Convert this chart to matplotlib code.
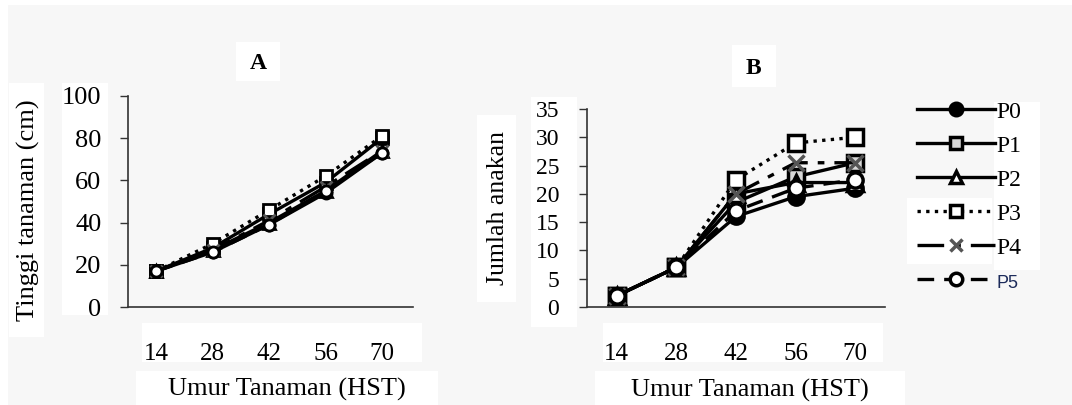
import numpy as np
import matplotlib
matplotlib.use('Agg')
import matplotlib.pyplot as plt
from matplotlib.patches import Rectangle

# Data
days = ['14', '28', '42', '56', '70']
series = ['P0', 'P1', 'P2', 'P3', 'P4', 'P5']

# A: plant height (cm)
height_p0 = [17, 26, 39, 54, 73]
height_p1 = [17, 28, 44, 59, 80]
height_p2 = [17, 27, 40, 55, 74]
height_p3 = [17, 30, 46, 62, 81]
height_p4 = [17, 27, 41, 57, 74]
height_p5 = [17, 26, 39, 55, 73]

# B: number of tillers
tiller_p0 = [2, 7, 16, 19.5, 21]
tiller_p1 = [2, 7, 18.5, 23, 25.5]
tiller_p2 = [2, 7, 20, 22, 22]
tiller_p3 = [2, 7, 22.5, 29, 30]
tiller_p4 = [2, 7, 20, 25.5, 25.5]
tiller_p5 = [2, 7, 17, 21, 22.5]

heights = [height_p0, height_p1, height_p2, height_p3, height_p4, height_p5]
tillers = [tiller_p0, tiller_p1, tiller_p2, tiller_p3, tiller_p4, tiller_p5]

# line / marker styles per series
styles = [
    dict(ls='-', marker='o', mfc='black', mec='black', color='black'),
    dict(ls='-', marker='s', mfc='#d8d8d8', mec='black', color='black'),
    dict(ls='-', marker='^', mfc='white', mec='black', color='black'),
    dict(ls=(0, (1, 1.6)), marker='s', mfc='white', mec='black', color='black'),
    dict(ls=(0, (8, 3, 2, 3)), marker='x', mfc='#555555', mec='#555555', color='black'),
    dict(ls=(0, (5, 3)), marker='o', mfc='white', mec='black', color='black'),
]

W, H = 1072, 405
plt.rcParams['font.family'] = ['Liberation Serif', 'DejaVu Serif']
fig = plt.figure(figsize=(W / 100, H / 100), dpi=100, facecolor='white')


def px_box(x0, y0, x1, y1, color):
    # rectangle given in pixel coords, origin at top-left
    fig.patches.append(Rectangle((x0 / W, 1 - y1 / H), (x1 - x0) / W, (y1 - y0) / H,
                                 transform=fig.transFigure, facecolor=color,
                                 edgecolor='none', zorder=-2))


def px_axes(left, top, right, bottom):
    return fig.add_axes([left / W, 1 - bottom / H, (right - left) / W, (bottom - top) / H])


# grey page with white boxes behind the text pieces
px_box(8, 5, W, H, '#f7f7f7')
for b in [(236, 42, 280, 81), (62, 83, 108, 315), (9, 83, 44, 337), (142, 323, 422, 362),
          (136, 371, 438, 405), (732, 45, 776, 87), (531, 97, 577, 327), (477, 115, 516, 302),
          (603, 323, 883, 362), (595, 371, 905, 405), (994, 102, 1040, 270), (907, 198, 992, 264)]:
    px_box(*b, 'white')

axA = px_axes(128, 96, 413, 307)
axB = px_axes(587, 109, 885, 307)

x = np.arange(len(days))
for vals, st, name in zip(heights, styles, series):
    axA.plot(x, vals, lw=2.4, ms=8, mew=2, label=name, **st)

lines = []
for vals, st, name in zip(tillers, styles, series):
    ln, = axB.plot(x, vals, lw=2.4, ms=11, mew=2.5, label=name, **st)
    lines.append(ln)

for ax, ymax, step, tfs, pad in [(axA, 100, 20, 19, 13), (axB, 35, 5, 17, 14)]:
    ax.set_facecolor('none')
    ax.set_ylim(0, ymax)
    ax.set_yticks(np.arange(0, ymax + 1, step))
    ax.set_xlim(-0.5, 4.5)
    ax.set_xticks(x)
    ax.set_xticklabels(days)
    for s in ['top', 'right']:
        ax.spines[s].set_visible(False)
    for s in ['left', 'bottom']:
        ax.spines[s].set_color('#333333')
        ax.spines[s].set_linewidth(1.2)
    ax.tick_params(axis='y', direction='out', length=6, width=1, color='#333333',
                   labelsize=tfs, pad=pad)
    ax.tick_params(axis='x', length=0, labelsize=18, pad=26)

axA.set_xlim(-0.5, 4.55)

axA.set_ylabel('Tinggi tanaman (cm)', fontsize=19, va='center')
axA.yaxis.set_label_coords(-0.35, 0.46)
axA.set_xlabel('Umur Tanaman (HST)', fontsize=19, va='center')
axA.xaxis.set_label_coords(0.558, -0.393)
axA.text(0.456, 1.156, 'A', transform=axA.transAxes, ha='center', va='center',
         fontsize=17, fontweight='bold')

axB.set_ylabel('Jumlah anakan', fontsize=18.5, va='center')
axB.yaxis.set_label_coords(-0.299, 0.5)
axB.set_xlabel('Umur Tanaman (HST)', fontsize=19, va='center')
axB.xaxis.set_label_coords(0.547, -0.419)
axB.text(0.557, 1.207, 'B', transform=axB.transAxes, ha='center', va='center',
         fontsize=17, fontweight='bold')

leg = fig.legend(handles=lines, loc='upper left', bbox_to_anchor=(917 / W, 1 - 101 / H),
                 frameon=False, fontsize=17, handlelength=3.3, handletextpad=0.05,
                 labelspacing=0.53, borderpad=0, borderaxespad=0)
for h in leg.legend_handles:
    h.set_markersize(9)
t5 = leg.get_texts()[5]
t5.set_fontfamily(['Liberation Sans', 'DejaVu Sans'])
t5.set_fontsize(13)
t5.set_color('#1c2b5a')

fig.savefig('out.png', dpi=100, facecolor=fig.get_facecolor())
